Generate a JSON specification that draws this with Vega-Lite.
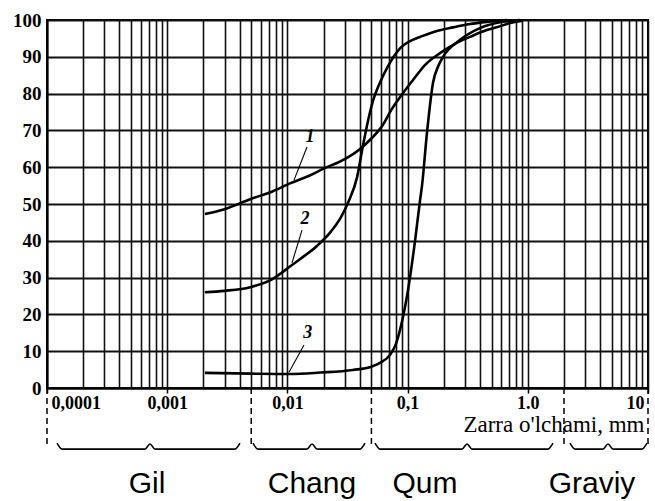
{
  "$schema": "https://vega.github.io/schema/vega-lite/v6.json",
  "width": 601,
  "height": 368,
  "autosize": {"type": "none"},
  "padding": {"left": 47, "top": 20, "right": 7, "bottom": 113},
  "background": "white",
  "config": {
    "view": {"stroke": "black", "strokeWidth": 2},
    "font": "Liberation Serif"
  },
  "datasets": {
    "curves": [
      {"curve": "1", "size": 0.00206, "pct": 47.3},
      {"curve": "1", "size": 0.003, "pct": 48.6},
      {"curve": "1", "size": 0.0049, "pct": 51.3},
      {"curve": "1", "size": 0.0075, "pct": 53.4},
      {"curve": "1", "size": 0.0105, "pct": 55.6},
      {"curve": "1", "size": 0.015, "pct": 57.6},
      {"curve": "1", "size": 0.02, "pct": 59.6},
      {"curve": "1", "size": 0.03, "pct": 62.2},
      {"curve": "1", "size": 0.04, "pct": 64.9},
      {"curve": "1", "size": 0.05, "pct": 67.8},
      {"curve": "1", "size": 0.062, "pct": 71.4},
      {"curve": "1", "size": 0.073, "pct": 75.5},
      {"curve": "1", "size": 0.09, "pct": 79.8},
      {"curve": "1", "size": 0.111, "pct": 83.7},
      {"curve": "1", "size": 0.14, "pct": 87.8},
      {"curve": "1", "size": 0.186, "pct": 91.0},
      {"curve": "1", "size": 0.25, "pct": 93.6},
      {"curve": "1", "size": 0.33, "pct": 95.4},
      {"curve": "1", "size": 0.45, "pct": 97.2},
      {"curve": "1", "size": 0.55, "pct": 98.0},
      {"curve": "1", "size": 0.7, "pct": 99.1},
      {"curve": "1", "size": 0.9, "pct": 99.8},
      {"curve": "2", "size": 0.00206, "pct": 26.0},
      {"curve": "2", "size": 0.003, "pct": 26.4},
      {"curve": "2", "size": 0.0049, "pct": 27.4},
      {"curve": "2", "size": 0.0075, "pct": 29.6},
      {"curve": "2", "size": 0.0105, "pct": 33.0},
      {"curve": "2", "size": 0.0127, "pct": 35.0},
      {"curve": "2", "size": 0.0176, "pct": 38.6},
      {"curve": "2", "size": 0.023, "pct": 42.5},
      {"curve": "2", "size": 0.028, "pct": 46.5},
      {"curve": "2", "size": 0.0322, "pct": 50.6},
      {"curve": "2", "size": 0.038, "pct": 57.3},
      {"curve": "2", "size": 0.0426, "pct": 66.0},
      {"curve": "2", "size": 0.0487, "pct": 75.0},
      {"curve": "2", "size": 0.0515, "pct": 78.0},
      {"curve": "2", "size": 0.058, "pct": 82.5},
      {"curve": "2", "size": 0.0675, "pct": 87.0},
      {"curve": "2", "size": 0.0865, "pct": 92.3},
      {"curve": "2", "size": 0.11, "pct": 94.6},
      {"curve": "2", "size": 0.127, "pct": 95.4},
      {"curve": "2", "size": 0.17, "pct": 96.9},
      {"curve": "2", "size": 0.239, "pct": 98.0},
      {"curve": "2", "size": 0.33, "pct": 98.9},
      {"curve": "2", "size": 0.458, "pct": 99.5},
      {"curve": "2", "size": 0.67, "pct": 100},
      {"curve": "3", "size": 0.00206, "pct": 4.1},
      {"curve": "3", "size": 0.005, "pct": 3.9},
      {"curve": "3", "size": 0.0105, "pct": 3.8},
      {"curve": "3", "size": 0.0187, "pct": 4.2},
      {"curve": "3", "size": 0.035, "pct": 4.9},
      {"curve": "3", "size": 0.05, "pct": 5.8},
      {"curve": "3", "size": 0.0589, "pct": 6.8},
      {"curve": "3", "size": 0.0714, "pct": 9.0},
      {"curve": "3", "size": 0.08, "pct": 12.0},
      {"curve": "3", "size": 0.0865, "pct": 15.8},
      {"curve": "3", "size": 0.1008, "pct": 26.6},
      {"curve": "3", "size": 0.1153, "pct": 40.0},
      {"curve": "3", "size": 0.1269, "pct": 51.0},
      {"curve": "3", "size": 0.1318, "pct": 55.0},
      {"curve": "3", "size": 0.1449, "pct": 69.3},
      {"curve": "3", "size": 0.1626, "pct": 82.9},
      {"curve": "3", "size": 0.18, "pct": 87.5},
      {"curve": "3", "size": 0.1971, "pct": 90.0},
      {"curve": "3", "size": 0.273, "pct": 94.6},
      {"curve": "3", "size": 0.4, "pct": 97.8},
      {"curve": "3", "size": 0.62, "pct": 99.5},
      {"curve": "3", "size": 0.86, "pct": 100}
    ],
    "curveLabels": [
      {"curve": "1", "size": 0.01542, "pct": 68.2, "ax": 0.01456, "ay": 65.5, "bx": 0.01135, "by": 56.5},
      {"curve": "2", "size": 0.01401, "pct": 45.9, "ax": 0.01323, "ay": 42.9, "bx": 0.01092, "by": 34.0},
      {"curve": "3", "size": 0.01474, "pct": 14.9, "ax": 0.01374, "ay": 11.7, "bx": 0.01031, "by": 4.3}
    ],
    "boundaries": [
      {"size": 0.0001},
      {"size": 0.005},
      {"size": 0.05},
      {"size": 2},
      {"size": 10}
    ],
    "classes": [
      {"cls": "Gil", "size": 0.00068},
      {"cls": "Chang", "size": 0.016},
      {"cls": "Qum", "size": 0.1396},
      {"cls": "Graviy", "size": 3.42}
    ],
    "braces": [
      {"cls": "Gil", "size": 0.0001211, "pos": -15.0},
      {"cls": "Gil", "size": 0.0001333, "pos": -16.6},
      {"cls": "Gil", "size": 0.000654, "pos": -16.6},
      {"cls": "Gil", "size": 0.000719, "pos": -15.2},
      {"cls": "Gil", "size": 0.000791, "pos": -16.6},
      {"cls": "Gil", "size": 0.00366, "pos": -16.6},
      {"cls": "Gil", "size": 0.00403, "pos": -15.0},
      {"cls": "Chang", "size": 0.00517, "pos": -15.0},
      {"cls": "Chang", "size": 0.00569, "pos": -16.6},
      {"cls": "Chang", "size": 0.01456, "pos": -16.6},
      {"cls": "Chang", "size": 0.01603, "pos": -15.2},
      {"cls": "Chang", "size": 0.01763, "pos": -16.6},
      {"cls": "Chang", "size": 0.04018, "pos": -16.6},
      {"cls": "Chang", "size": 0.04422, "pos": -15.0},
      {"cls": "Qum", "size": 0.05356, "pos": -15.0},
      {"cls": "Qum", "size": 0.05893, "pos": -16.6},
      {"cls": "Qum", "size": 0.2836, "pos": -16.6},
      {"cls": "Qum", "size": 0.3121, "pos": -15.2},
      {"cls": "Qum", "size": 0.3434, "pos": -16.6},
      {"cls": "Qum", "size": 1.472, "pos": -16.6},
      {"cls": "Qum", "size": 1.621, "pos": -15.0},
      {"cls": "Graviy", "size": 2.245, "pos": -15.0},
      {"cls": "Graviy", "size": 2.47, "pos": -16.6},
      {"cls": "Graviy", "size": 4.223, "pos": -16.6},
      {"cls": "Graviy", "size": 4.648, "pos": -15.2},
      {"cls": "Graviy", "size": 5.116, "pos": -16.6},
      {"cls": "Graviy", "size": 8.916, "pos": -16.6},
      {"cls": "Graviy", "size": 9.81, "pos": -15.0}
    ]
  },
  "layer": [
    {
      "data": {"name": "curves"},
      "mark": {"type": "line", "interpolate": "monotone", "color": "black", "strokeWidth": 2.6},
      "encoding": {
        "x": {
          "field": "size",
          "type": "quantitative",
          "scale": {"type": "log", "domain": [0.0001, 10], "nice": false},
          "axis": {
            "title": "Zarra o'lchami, mm",
            "titleFont": "Liberation Serif",
            "titleFontSize": 23,
            "titleFontWeight": "normal",
            "titleColor": "black",
            "titleAnchor": "end",
            "titleAlign": "right",
            "titleBaseline": "alphabetic",
            "titleX": 597,
            "titleY": 43,
            "tickCount": 60,
            "values": [0.0001, 0.0002, 0.0003, 0.0004, 0.0005, 0.0006, 0.0007, 0.0008, 0.0009,
                       0.001, 0.002, 0.003, 0.004, 0.005, 0.006, 0.007, 0.008, 0.009,
                       0.01, 0.02, 0.03, 0.04, 0.05, 0.06, 0.07, 0.08, 0.09,
                       0.1, 0.2, 0.3, 0.4, 0.5, 0.6, 0.7, 0.8, 0.9,
                       1, 2, 3, 4, 5, 6, 7, 8, 9, 10],
            "labelExpr": "datum.value == 0.0001 ? '0,0001' : datum.value == 0.001 ? '0,001' : datum.value == 0.01 ? '0,01' : datum.value == 0.1 ? '0,1' : datum.value == 1 ? '1.0' : datum.value == 10 ? '10' : ''",
            "labelFont": "Liberation Serif",
            "labelFontSize": 18,
            "labelFontWeight": "bold",
            "labelColor": "black",
            "labelPadding": 1,
            "labelOverlap": false,
            "labelFlush": true,
            "labelFlushOffset": -4,
            "tickSize": 5,
            "tickColor": "black",
            "tickWidth": 1.5,
            "tickOpacity": {"condition": {"test": "indexof([0.0001, 0.001, 0.01, 0.1, 1, 10], datum.value) >= 0", "value": 1}, "value": 0},
            "grid": true,
            "gridColor": "#111111",
            "gridWidth": 1.6,
            "gridOpacity": 1,
            "domainColor": "black",
            "domainWidth": 2
          }
        },
        "y": {
          "field": "pct",
          "type": "quantitative",
          "scale": {"domain": [0, 100], "nice": false},
          "axis": {
            "title": null,
            "values": [0, 10, 20, 30, 40, 50, 60, 70, 80, 90, 100],
            "tickCount": 11,
            "labelFont": "Liberation Serif",
            "labelFontSize": 19,
            "labelFontWeight": "bold",
            "labelColor": "black",
            "labelPadding": 6,
            "labelOverlap": false,
            "labelFlush": false,
            "tickSize": 0,
            "grid": true,
            "gridColor": "#111111",
            "gridWidth": 1.9,
            "gridOpacity": 1,
            "domainColor": "black",
            "domainWidth": 2
          }
        },
        "detail": {"field": "curve", "type": "nominal"}
      }
    },
    {
      "data": {"name": "curveLabels"},
      "mark": {"type": "rule", "color": "black", "strokeWidth": 1.1},
      "encoding": {
        "x": {"field": "ax", "type": "quantitative"},
        "x2": {"field": "bx"},
        "y": {"field": "ay", "type": "quantitative"},
        "y2": {"field": "by"}
      }
    },
    {
      "data": {"name": "curveLabels"},
      "mark": {"type": "text", "font": "Liberation Serif", "fontSize": 18, "fontStyle": "italic", "fontWeight": "bold", "color": "black", "align": "center", "baseline": "middle"},
      "encoding": {
        "x": {"field": "size", "type": "quantitative"},
        "y": {"field": "pct", "type": "quantitative"},
        "text": {"field": "curve"}
      }
    },
    {
      "data": {"name": "boundaries"},
      "mark": {"type": "rule", "color": "black", "strokeWidth": 1.5, "strokeDash": [6, 4], "clip": false},
      "encoding": {
        "x": {"field": "size", "type": "quantitative"},
        "y": {"datum": 0},
        "y2": {"datum": -16}
      }
    },
    {
      "data": {"name": "braces"},
      "mark": {"type": "line", "interpolate": "monotone", "color": "black", "strokeWidth": 1.6, "clip": false},
      "encoding": {
        "x": {"field": "size", "type": "quantitative"},
        "y": {"field": "pos", "type": "quantitative"},
        "detail": {"field": "cls", "type": "nominal"}
      }
    },
    {
      "data": {"name": "classes"},
      "mark": {"type": "text", "font": "Liberation Sans", "fontSize": 30, "color": "black", "align": "center", "baseline": "alphabetic", "clip": false},
      "encoding": {
        "x": {"field": "size", "type": "quantitative"},
        "y": {"datum": -28.6},
        "text": {"field": "cls"}
      }
    }
  ]
}
